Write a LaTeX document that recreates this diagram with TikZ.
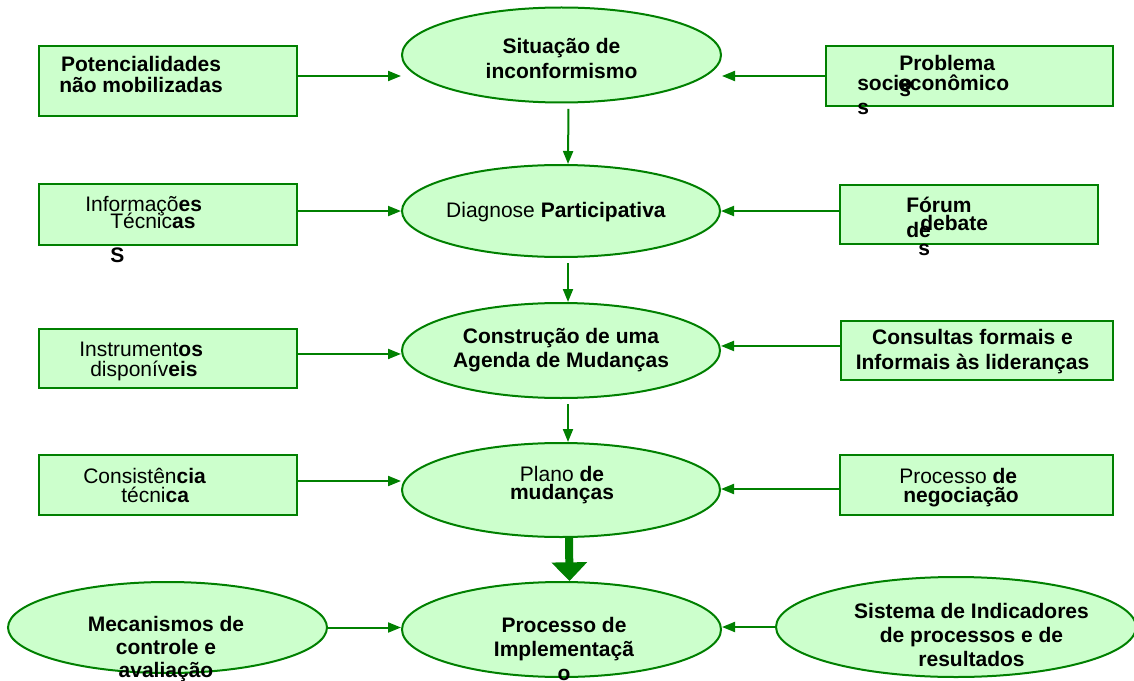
\documentclass[tikz,border=0pt]{standalone}
\usepackage{fontspec}
\setmainfont{Liberation Sans}
\usetikzlibrary{shapes.geometric,arrows.meta}
\definecolor{verdeclaro}{HTML}{CCFFCC}
\definecolor{verde}{HTML}{008000}
\tikzset{
  elipse/.style={ellipse,draw=verde,fill=verdeclaro,line width=1.5pt,inner sep=0pt},
  caixa/.style={rectangle,draw=verde,fill=verdeclaro,line width=1.5pt,inner sep=0pt},
  txt/.style={font=\fontsize{15.75}{18}\selectfont,align=center,inner sep=0pt},
  lin/.style={font=\fontsize{15.75}{18}\selectfont,inner sep=0pt,anchor=base west},
  seta/.style={draw=verde,line width=1.5pt,-{Triangle[length=9.75pt,width=7.5pt]}},
  setagrossa/.style={draw=verde,line width=6pt,-{Triangle[length=14pt,width=26pt]}}
}
\begin{document}
\begin{tikzpicture}[x=0.75pt,y=-0.75pt]
   \useasboundingbox (0,0) rectangle (1134,681);
   \fill[white] (0,0) rectangle (1134,681);
   \node[caixa,minimum width=193.5pt,minimum height=52.5pt] (b1) at (168,81) {};
   \node[caixa,minimum width=215.25pt,minimum height=45pt] (r1) at (969.5,76) {};
   \node[elipse,minimum width=239.25pt,minimum height=71.25pt] (e1) at (561.5,55) {};
   \node[caixa,minimum width=193.5pt,minimum height=45.75pt] (b2) at (168,214.5) {};
   \node[elipse,minimum width=238.5pt,minimum height=69pt] (e2) at (561,211) {};
   \node[caixa,minimum width=193.5pt,minimum height=44.25pt] (r2) at (969,214.5) {};
   \node[caixa,minimum width=193.5pt,minimum height=44.25pt] (b3) at (168,358.5) {};
   \node[elipse,minimum width=238.5pt,minimum height=71.25pt] (e3) at (561,350.5) {};
   \node[caixa,minimum width=204pt,minimum height=44.25pt] (r3) at (977,350.5) {};
   \node[caixa,minimum width=193.5pt,minimum height=45pt] (b4) at (168,485) {};
   \node[elipse,minimum width=238.5pt,minimum height=70.5pt] (e4) at (561,490) {};
   \node[caixa,minimum width=204.75pt,minimum height=45pt] (r4) at (976.5,485) {};
   \node[elipse,minimum width=239.25pt,minimum height=71.25pt] (e5) at (561.5,629.5) {};
   \node[elipse,minimum width=239.25pt,minimum height=68.25pt] (e6) at (167.5,627.5) {};
   \node[elipse,minimum width=270pt,minimum height=75pt] (e7) at (956,627) {};

   \draw[seta] ([yshift=3.75pt]b1.east) -- ([yshift=3.75pt]b1.east -| e1.west);
   \draw[seta] (r1.west) -- (r1.west -| e1.east);
   \draw[seta] ([yshift=2.6pt]b2.east) -- ([yshift=2.6pt]b2.east -| e2.west);
   \draw[seta] ([yshift=2.6pt]r2.west) -- ([yshift=2.6pt]r2.west -| e2.east);
   \draw[seta] ([yshift=3.4pt]b3.east) -- ([yshift=3.4pt]b3.east -| e3.west);
   \draw[seta] ([yshift=3.4pt]r3.west) -- ([yshift=3.4pt]r3.west -| e3.east);
   \draw[seta] ([yshift=3pt]b4.east) -- ([yshift=3pt]b4.east -| e4.west);
   \draw[seta] ([yshift=-3pt]r4.west) -- ([yshift=-3pt]r4.west -| e4.east);
   \draw[seta] (e6.east) -- (e6.east -| e5.west);
   \draw[seta] (e7.west) -- (e7.west -| e5.east);
   \foreach \a/\b in {e1/e2,e2/e3,e3/e4} {\draw[seta,shorten <=4pt] ([xshift=5.25pt]\a.south) -- ([xshift=5.25pt]\b.north);}
   \draw[setagrossa] ([xshift=6pt]e4.south) -- ([xshift=6pt]e5.north);

   \node[txt] (t1) at (561.5,58) {\textbf{Situação de}\\[0.75pt]\textbf{inconformismo}};
   \node[txt,anchor=base] (t2) at (556,217) {Diagnose \textbf{Participativa}};
   \node[txt] (t3) at (561,350.5) {\textbf{Construção de uma}\\\textbf{Agenda de Mudanças}};
   \node[txt] (t4) at (562,485.5) {Plano \textbf{de}\\[-4.5pt]\textbf{mudanças}};
   \node[txt] (t5) at (564,649) {\textbf{Processo de}\\\textbf{Implementaçã}\\\textbf{o}};
   \node[txt] (t6) at (166,649.5) {\textbf{Mecanismos de}\\[-0.75pt]\textbf{controle e}\\[-0.75pt]\textbf{avaliação}};
   \node[txt] (t7) at (971.5,635) {\textbf{Sistema de Indicadores}\\\textbf{de processos e de}\\\textbf{resultados}};

   \node[txt] (b1t) at (141,74) {\textbf{Potencialidades}\\[-2.25pt]\textbf{não mobilizadas}};
   \node[txt] (r3t) at (972.5,352) {\textbf{Consultas formais e}\\[0.75pt]\textbf{Informais às lideranças}};

   \node[lin] (r1a) at (899,71) {\textbf{Problema}};
   \node[lin] (r1b) at (857,91) {\textbf{socio}};
   \node[lin] (r1c) at (898,91) {\textbf{econômico}};
   \node[lin] (r1d) at (899,97) {\textbf{s}};
   \node[lin] (r1e) at (857,115) {\textbf{s}};

   \node[lin] (r2a) at (906,212) {\textbf{Fórum}};
   \node[lin] (r2b) at (920,230) {\textbf{debate}};
   \node[lin] (r2c) at (906,237) {\textbf{de}};
   \node[lin] (r2d) at (918,255) {\textbf{s}};

   \node[lin] (b2a) at (85,211) {Informaçõ\textbf{es}};
   \node[lin] (b2b) at (110,228) {Técnic\textbf{as}};
   \node[lin] (b2c) at (110,262) {\textbf{S}};

   \node[lin] (b3a) at (79,356) {Instrument\textbf{os}};
   \node[lin] (b3b) at (90,376) {disponív\textbf{eis}};

   \node[lin] (b4a) at (83,483) {Consistên\textbf{cia}};
   \node[lin] (b4b) at (121,502) {técni\textbf{ca}};

   \node[lin] (r4a) at (899,483) {Processo \textbf{de}};
   \node[lin] (r4b) at (903,502) {\textbf{negociação}};
\end{tikzpicture}
\end{document}
